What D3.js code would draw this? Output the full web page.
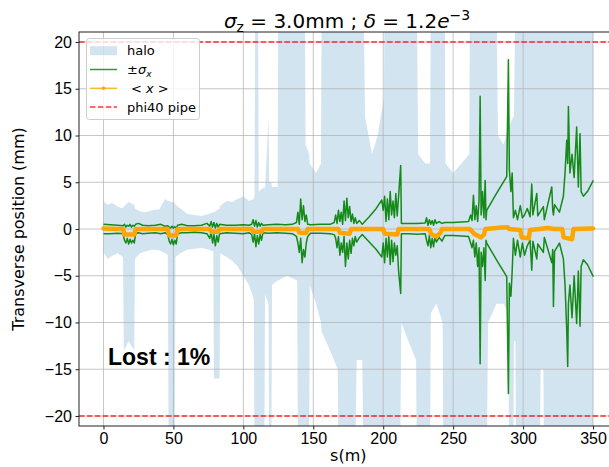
<!DOCTYPE html>
<html lang="en">
<head>
<meta charset="UTF-8">
<title>Transverse position</title>
<script src="https://cdn.jsdelivr.net/npm/d3@7"></script>
<style>
  body { margin: 0; background: #fff; }
  svg { display: block; font-family: "DejaVu Sans", sans-serif; }
  .tick text { font-size: 16px; fill: #000; }
  .tick line { stroke: #222; }
  .domain { display: none; }
</style>
</head>
<body>
<script>
// x ticks / y ticks
var xTicks = [0, 50, 100, 150, 200, 250, 300, 350];
var yTicks = [-20, -15, -10, -5, 0, 5, 10, 15, 20];

// halo envelope (mm), values past +-21 go off the chart
var haloS  = [0, 3, 6, 10, 14, 14.5, 18, 22, 22.5, 26, 30, 35, 40, 44, 46, 46.5, 51, 51.5, 55, 60, 65, 70, 75, 78.5, 79, 83, 83.5, 88, 92, 96, 100, 104, 107.5, 108, 108.5, 110.5, 111, 115, 115.5, 118, 118.5, 120, 120.5, 124.5, 125, 131, 138.5, 139, 144, 144.5, 147, 147.5, 152, 155.5, 156, 162, 167.5, 168, 180, 181, 185, 186, 187, 192, 196, 200.5, 201, 212, 213, 218, 223.5, 224, 225, 230, 233.5, 234, 238, 242.5, 243, 244, 244.5, 250, 256, 261.5, 262, 274, 275, 281, 282, 286, 289.5, 290, 293, 293.5, 294.5, 295, 312, 312.5, 314.5, 315, 350];
var haloUp = [3.0, 2.6, 2.8, 2.4, 2.2, 2.4, 2.9, 2.6, 2.2, 1.9, 1.8, 2.0, 2.1, 3.2, 3.0, 3.0, 2.8, 2.6, 2.2, 1.6, 1.5, 1.4, 1.6, 1.8, 1.8, 2.2, 2.5, 3.0, 2.9, 3.2, 3.5, 3.0, 3.2, 3.5, 25, 25, 4, 4.5, 4.2, 12, 5, 5, 4.5, 4.5, 25, 25, 25, 25, 25, 9, 8, 7, 6, 7, 25, 25, 25, 25, 25, 25, 25, 25, 12, 8, 10, 14, 25, 25, 25, 25, 25, 25, 8, 7, 7, 25, 25, 25, 25, 25, 7, 6, 7, 8, 25, 25, 25, 25, 10, 9, 11, 11, 12, 12, 25, 25, 25, 25, 25, 25, 25];
var haloLo = [-2.5, -3.2, -2.9, -2.6, -3.0, -13, -12, -13, -3.2, -2.6, -2.4, -2.2, -2.3, -2.6, -2.8, -21, -22, -3.0, -2.6, -2.2, -2.1, -2.0, -2.2, -2.4, -16, -16, -2.6, -3.0, -3.4, -4.0, -5.0, -6.0, -7.5, -25, -25, -25, -25, -25, -7, -8, -25, -25, -6, -5.5, -5.5, -5, -5.5, -25, -25, -25, -25, -6, -8, -10, -11, -13, -15, -25, -25, -14, -14, -25, -25, -25, -25, -25, -25, -25, -10, -12, -14, -25, -25, -25, -25, -9, -8, -10, -25, -25, -25, -25, -25, -25, -25, -25, -10, -8, -8, -8, -9, -25, -25, -12, -12, -25, -25, -15, -15, -25, -25];

// +-sigma_x curves (mm)
var sigS  = [0, 5, 10, 14, 15, 16, 17, 18, 19, 20, 21, 22, 23, 25, 28, 32, 37, 41, 44, 46, 47, 48, 49, 50, 51, 52, 53, 56, 60, 65, 70, 74, 76, 77, 78, 79, 80, 81, 82, 83, 88, 94, 100, 104, 106, 107, 108, 109, 110, 111, 112, 113, 114, 118, 124, 130, 135, 138, 139, 140, 141, 142, 143, 144, 145, 146, 148, 155, 162, 165, 166, 167, 168, 169, 170, 171, 172, 173, 174, 175, 176, 177, 178, 179, 180, 181, 183, 185, 190, 195, 199, 200, 201, 202, 203, 204, 205, 206, 207, 208, 209, 210, 211, 212.5, 213, 218, 224, 230, 231, 232, 233, 234, 235, 236, 237, 238, 240, 242, 244, 250, 256, 261, 262.5, 263.5, 264.5, 265.5, 266.5, 267.5, 268.5, 269.3, 270, 271, 272, 272.9, 273.5, 274, 281, 288.3, 289.5, 290.2, 291.3, 292.2, 293.1, 294.5, 296, 298, 299.5, 301, 303, 305, 306.2, 307, 309.8, 310.5, 314.5, 315.2, 320.5, 321.2, 321.7, 322.5, 326, 328.8, 330, 331.2, 331.9, 332.4, 333.5, 335, 336.5, 338.3, 339.5, 340.7, 341.5, 343.1, 346, 350.2];
var sigUp = [0.5, 0.45, 0.4, 0.35, 0.5, 0.2, 0.4, 0.3, 0.5, 0.2, 0.4, 0.3, 0.5, 0.6, 0.4, 0.35, 0.4, 0.5, 0.3, 0.35, 0.2, 0.1, 0.3, 0.1, 0.25, 0.1, 0.4, 0.5, 0.35, 0.35, 0.4, 0.6, 0.3, 0.8, 0.2, 0.7, 0.1, 0.6, 0.2, 0.5, 0.4, 0.4, 0.45, 0.4, 0.5, 1.0, 0.3, 0.9, 0.2, 0.7, 0.3, 0.6, 0.4, 0.45, 0.5, 0.45, 0.5, 0.7, 1.8, 0.5, 3.2, 1.0, 2.5, 0.8, 1.5, 0.5, 0.45, 0.5, 0.5, 0.7, 1.5, 0.6, 2.0, 0.8, 1.8, 0.5, 3.0, 0.9, 3.3, 1.2, 2.4, 0.8, 1.6, 0.6, 1.2, 0.6, 0.9, 0.5, 1.3, 2.2, 3.1, 2.0, 3.5, 0.8, 3.2, 1.0, 4.0, 1.5, 3.0, 1.2, 3.8, 1.4, 3.5, 6.8, 0.6, 0.6, 0.6, 0.65, 1.2, 0.4, 1.0, 0.5, 0.9, 0.4, 1.0, 0.6, 0.8, 0.6, 0.7, 0.7, 0.75, 0.8, 1.5, 0.9, 3.6, 1.0, 2.5, 0.8, 3.0, 14.2, 1.5, 4.0, 1.2, 5.2, 1.0, 2.0, 3.8, 5.6, 18.1, 6.3, 4.0, 6.0, 1.2, 2.0, 1.0, 2.5, 1.2, 1.5, 2.2, 1.3, 4.8, 1.5, 3.8, 1.4, 2.4, 1.0, 4.5, 2.0, 1.5, 2.6, 1.8, 3.5, 6.0, 9.5, 7.0, 13.1, 6.0, 8.0, 5.5, 10.9, 4.5, 10.2, 4.0, 3.5, 4.0, 5.2];
var sigLo = [-0.5, -0.5, -0.45, -0.5, -1.2, -1.5, -1.0, -1.6, -1.1, -1.5, -1.2, -1.5, -0.5, -0.4, -0.5, -0.45, -0.4, -0.5, -0.4, -0.6, -1.3, -1.6, -1.1, -1.7, -1.2, -1.6, -0.5, -0.4, -0.4, -0.35, -0.4, -0.5, -1.0, -0.3, -1.5, -0.6, -1.8, -0.7, -1.4, -0.5, -0.4, -0.45, -0.5, -0.4, -0.6, -1.4, -0.5, -1.9, -0.7, -1.6, -0.6, -1.2, -0.4, -0.45, -0.4, -0.45, -0.5, -0.8, -1.5, -2.5, -1.0, -3.6, -2.2, -3.0, -1.5, -0.8, -0.45, -0.45, -0.5, -0.6, -1.0, -2.0, -0.8, -2.8, -1.5, -2.5, -0.8, -4.0, -1.5, -3.2, -1.2, -2.6, -1.0, -1.8, -0.8, -1.4, -0.9, -0.6, -1.4, -2.2, -3.0, -1.5, -3.6, -1.0, -3.0, -0.8, -3.8, -1.2, -3.5, -1.5, -2.8, -1.8, -4.5, -6.9, -0.5, -0.5, -0.55, -0.5, -1.2, -1.8, -0.7, -2.0, -1.0, -1.9, -0.8, -1.4, -0.9, -1.3, -0.7, -0.7, -0.75, -0.8, -1.5, -2.0, -1.2, -3.0, -1.5, -4.0, -2.0, -14.4, -2.5, -4.0, -2.0, -5.5, -1.2, -1.5, -3.3, -5.1, -17.6, -5.8, -7.2, -4.5, -1.0, -2.8, -1.2, -3.0, -1.5, -2.8, -1.8, -1.2, -4.4, -1.3, -3.2, -1.6, -2.5, -0.9, -3.6, -2.2, -8.3, -2.4, -1.5, -3.2, -6.0, -10.8, -14.7, -8.0, -6.0, -9.5, -5.0, -10.1, -4.5, -10.4, -4.0, -3.3, -3.8, -5.1];

// <x> mean position (mm)
var meanS = [0, 10, 14, 15, 22, 23, 46, 47, 52, 53, 76, 77, 82, 83, 106, 107, 113, 114, 139, 140, 145, 146, 168, 169, 176, 177, 200, 201, 210, 211, 233, 234, 238, 241, 242, 262, 265, 270, 272, 273, 285, 289, 290, 298, 299, 304, 305, 318, 322, 328, 329, 335, 336, 350];
var meanV = [0.05, 0, 0, -0.6, -0.6, 0, 0, -0.7, -0.7, 0, 0, -0.3, -0.3, 0, 0, -0.3, -0.3, 0, 0, -0.4, -0.4, 0, 0, -0.4, -0.5, 0, 0, -0.5, -0.6, 0, 0, -0.5, -0.8, -0.4, 0, 0, -0.5, -0.9, -0.6, 0, 0.15, 0.2, 0, -0.1, -0.9, -1.0, -0.1, 0.1, 0, 0, -0.9, -1.1, 0, 0.05];

var pipeY = [20, -20];

var legendItems = ["halo", "sigma", "mean", "phi40 pipe"];

var W = 609, H = 467;
var pL = 79, pR = 617.5, pT = 32, pB = 426;

var svg = d3.select("body").append("svg")
  .attr("width", W)
  .attr("height", H);

var x = d3.scaleLinear().domain([-17.5, 367.5]).range([pL, pR]);
var y = d3.scaleLinear().domain([-21.07, 21.07]).range([pB, pT]);

svg.append("clipPath").attr("id", "plot")
  .append("rect")
  .attr("x", pL).attr("y", pT)
  .attr("width", pR - pL).attr("height", pB - pT);

var plot = svg.append("g").attr("clip-path", "url(#plot)");

// halo band
var halo = haloS.map(function(s, i) { return {s: s, up: haloUp[i], lo: haloLo[i]}; });
plot.append("path")
  .datum(halo)
  .attr("fill", "#1f77b4")
  .attr("fill-opacity", 0.2)
  .attr("d", d3.area()
    .x(function(d) { return x(d.s); })
    .y0(function(d) { return y(d.lo); })
    .y1(function(d) { return y(d.up); }));

// grid
plot.selectAll(".gx").data(xTicks).enter().append("line")
  .attr("x1", function(d) { return x(d); }).attr("x2", function(d) { return x(d); })
  .attr("y1", pT).attr("y2", pB)
  .attr("stroke", "#b0b0b0").attr("stroke-width", 0.9).attr("stroke-opacity", 0.8);
plot.selectAll(".gy").data(yTicks).enter().append("line")
  .attr("x1", pL).attr("x2", pR)
  .attr("y1", function(d) { return y(d); }).attr("y2", function(d) { return y(d); })
  .attr("stroke", "#b0b0b0").attr("stroke-width", 0.9).attr("stroke-opacity", 0.8);

var line = d3.line()
  .x(function(d) { return x(d[0]); })
  .y(function(d) { return y(d[1]); });

// sigma curves
[sigUp, sigLo].forEach(function(vals) {
  plot.append("path")
    .datum(sigS.map(function(s, i) { return [s, vals[i]]; }))
    .attr("fill", "none")
    .attr("stroke", "#008000")
    .attr("stroke-opacity", 0.9)
    .attr("stroke-width", 1.5)
    .attr("stroke-linejoin", "round")
    .attr("d", line);
});

// mean
plot.append("path")
  .datum(meanS.map(function(s, i) { return [s, meanV[i]]; }))
  .attr("fill", "none")
  .attr("stroke", "#ffa500")
  .attr("stroke-width", 4.5)
  .attr("stroke-linejoin", "round")
  .attr("stroke-linecap", "round")
  .attr("d", line);

// pipe limits
plot.selectAll(".pipe").data(pipeY).enter().append("line")
  .attr("x1", pL).attr("x2", pR)
  .attr("y1", function(d) { return y(d); }).attr("y2", function(d) { return y(d); })
  .attr("stroke", "red").attr("stroke-opacity", 0.8)
  .attr("stroke-width", 1.5)
  .attr("stroke-dasharray", "5.5,2.4");

// spines
svg.append("rect")
  .attr("x", pL).attr("y", pT)
  .attr("width", pR - pL).attr("height", pB - pT)
  .attr("fill", "none").attr("stroke", "#222").attr("stroke-width", 1);

// axes
svg.append("g")
  .attr("transform", "translate(0," + pB + ")")
  .call(d3.axisBottom(x).tickValues(xTicks).tickSize(3.5).tickPadding(3.5));
svg.append("g")
  .attr("transform", "translate(" + pL + ",0)")
  .call(d3.axisLeft(y).tickValues(yTicks).tickSize(3.5).tickPadding(3.5));

// labels
svg.append("text")
  .attr("x", (pL + pR) / 2).attr("y", 461)
  .attr("text-anchor", "middle").attr("font-size", 16)
  .text("s(m)");
svg.append("text")
  .attr("transform", "translate(24," + (pT + pB) / 2 + ") rotate(-90)")
  .attr("text-anchor", "middle").attr("font-size", 16)
  .text("Transverse position (mm)");

// title
var title = svg.append("text")
  .attr("x", 347).attr("y", 28)
  .attr("text-anchor", "middle").attr("font-size", 20);
title.append("tspan").attr("font-style", "italic").text("σ");
title.append("tspan").attr("font-size", 14).attr("dy", 4).text("z");
title.append("tspan").attr("dy", -4).text(" = 3.0mm ; ");
title.append("tspan").attr("font-style", "italic").text("δ");
title.append("tspan").text(" = 1.2");
title.append("tspan").attr("font-style", "italic").text("e");
title.append("tspan").attr("font-size", 14).attr("dy", -8).text("−3");

// Lost text
svg.append("text")
  .attr("x", 108).attr("y", 365)
  .attr("font-family", "Liberation Sans, Arial, sans-serif")
  .attr("font-weight", "bold").attr("font-size", 23)
  .text("Lost : 1%");

// legend
var lg = svg.append("g");
lg.append("rect")
  .attr("x", 86.5).attr("y", 38.5).attr("width", 113).attr("height", 81)
  .attr("rx", 3)
  .attr("fill", "#fff").attr("fill-opacity", 0.8)
  .attr("stroke", "#cccccc");

legendItems.forEach(function(name, i) {
  var cy = 50.7 + i * 18.8;
  if (name === "halo") {
    lg.append("rect").attr("x", 90).attr("y", cy - 4.5).attr("width", 27).attr("height", 9)
      .attr("fill", "#1f77b4").attr("fill-opacity", 0.2);
  } else if (name === "sigma") {
    lg.append("line").attr("x1", 90).attr("x2", 117).attr("y1", cy).attr("y2", cy)
      .attr("stroke", "#008000").attr("stroke-opacity", 0.8).attr("stroke-width", 1.5);
  } else if (name === "mean") {
    lg.append("line").attr("x1", 90).attr("x2", 117).attr("y1", cy).attr("y2", cy)
      .attr("stroke", "#ffa500").attr("stroke-opacity", 0.8).attr("stroke-width", 1.5);
    lg.append("circle").attr("cx", 103.5).attr("cy", cy).attr("r", 1.8).attr("fill", "#ffa500");
  } else {
    lg.append("line").attr("x1", 90).attr("x2", 117).attr("y1", cy).attr("y2", cy)
      .attr("stroke", "red").attr("stroke-opacity", 0.8).attr("stroke-width", 1.5)
      .attr("stroke-dasharray", "5.5,2.4");
  }
  var t = lg.append("text").attr("x", 127).attr("y", cy + 4.5).attr("font-size", 13);
  if (name === "sigma") {
    t.append("tspan").text("±");
    t.append("tspan").attr("font-style", "italic").text("σ");
    t.append("tspan").attr("font-style", "italic").attr("font-size", 9).attr("dy", 3).text("x");
  } else if (name === "mean") {
    t.attr("x", 131);
    t.append("tspan").text("< ");
    t.append("tspan").attr("font-style", "italic").text("x");
    t.append("tspan").text(" >");
  } else {
    t.text(name);
  }
});
</script>
</body>
</html>
